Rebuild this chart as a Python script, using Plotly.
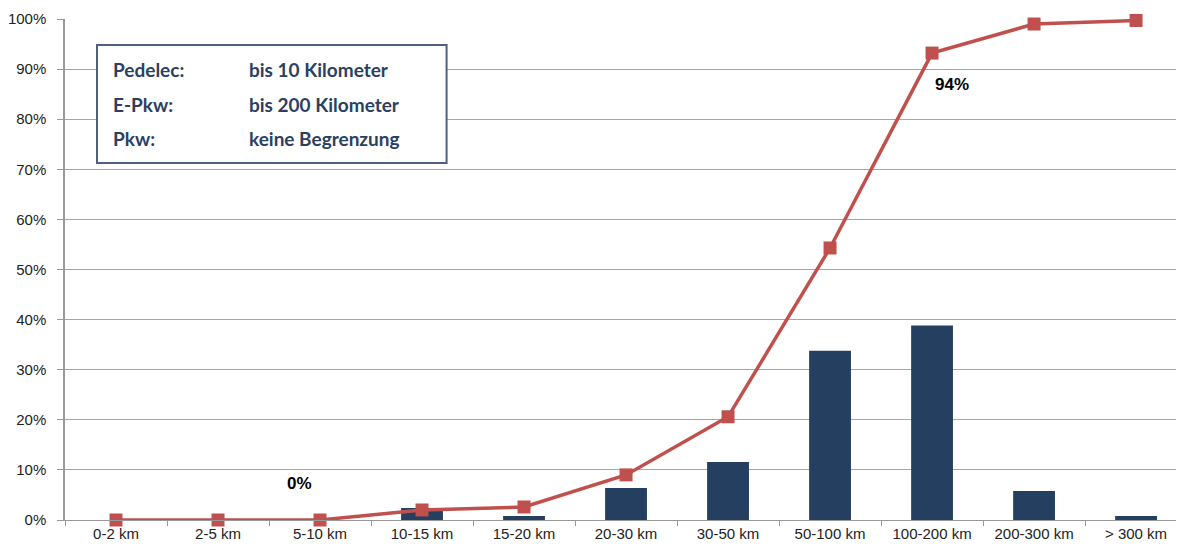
import plotly.graph_objects as go

categories = ["0-2 km", "2-5 km", "5-10 km", "10-15 km", "15-20 km", "20-30 km",
              "30-50 km", "50-100 km", "100-200 km", "200-300 km", "> 300 km"]
share = [0.0, 0.0, 0.0, 0.024, 0.008, 0.064, 0.116, 0.338, 0.388, 0.058, 0.008]
cumulative = [0.0, 0.0, 0.0, 0.020, 0.026, 0.090, 0.206, 0.543, 0.932, 0.990, 0.997]

fig = go.Figure()

fig.add_trace(go.Bar(
    x=categories, y=share, width=0.41,
    marker=dict(color="#253f60", line=dict(width=0)),
))
fig.add_trace(go.Scatter(
    x=categories, y=cumulative, mode="lines+markers",
    line=dict(color="#c0504d", width=3.5),
    marker=dict(symbol="square", size=13, color="#c0504d"),
    cliponaxis=False,
))

# data labels
fig.add_annotation(x=1.8, y=0.072, text="<b>0%</b>", showarrow=False,
                   font=dict(family="Arial", size=17, color="#000"))
fig.add_annotation(x=8.2, y=0.87, text="<b>94%</b>", showarrow=False,
                   font=dict(family="Arial", size=17, color="#000"))

# info box
fig.add_shape(type="rect", xref="paper", yref="paper", x0=0.0286, x1=0.341, y0=0.7126, y1=0.948,
              line=dict(color="#4f6080", width=2), fillcolor="white", layer="above")
rows = [("Pedelec:", "bis 10 Kilometer"), ("E-Pkw:", "bis 200 Kilometer"), ("Pkw:", "keine Begrenzung")]
row_y = [0.926, 0.856, 0.788]
for (a, b), yy in zip(rows, row_y):
    fig.add_annotation(xref="paper", yref="paper", x=0.041, y=yy, text=f"<b>{a}</b>",
                       showarrow=False, xanchor="left",
                       font=dict(family="Lato", size=19, color="#2b3f63"))
    fig.add_annotation(xref="paper", yref="paper", x=0.163, y=yy, text=f"<b>{b}</b>",
                       showarrow=False, xanchor="left",
                       font=dict(family="Lato", size=19, color="#2b3f63"))

# page body has an 8px margin, so shrink the figure and margins by that much
fig.update_layout(
    width=1176, height=540,
    margin=dict(l=57, r=0, t=11, b=28),
    plot_bgcolor="white", paper_bgcolor="white",
    showlegend=False,
    font=dict(family="Arial", size=15, color="#222"),
)
# original chart is cut off on the right, so the last slot runs past the edge
fig.update_xaxes(range=[-0.5, 10.47], showline=True, linecolor="#999", linewidth=1,
                 ticks="outside", ticklen=5, tickcolor="#999", tickson="boundaries",
                 showgrid=False, automargin=False)
fig.update_yaxes(range=[0, 1.0], dtick=0.1, tickformat=".0%", showline=True,
                 linecolor="#999", linewidth=1.5, gridcolor="#a6a6a6", gridwidth=1,
                 ticks="outside", ticklen=6, tickcolor="#999", zeroline=False,
                 ticklabelstandoff=8, automargin=False)

fig.write_html("out.html")
